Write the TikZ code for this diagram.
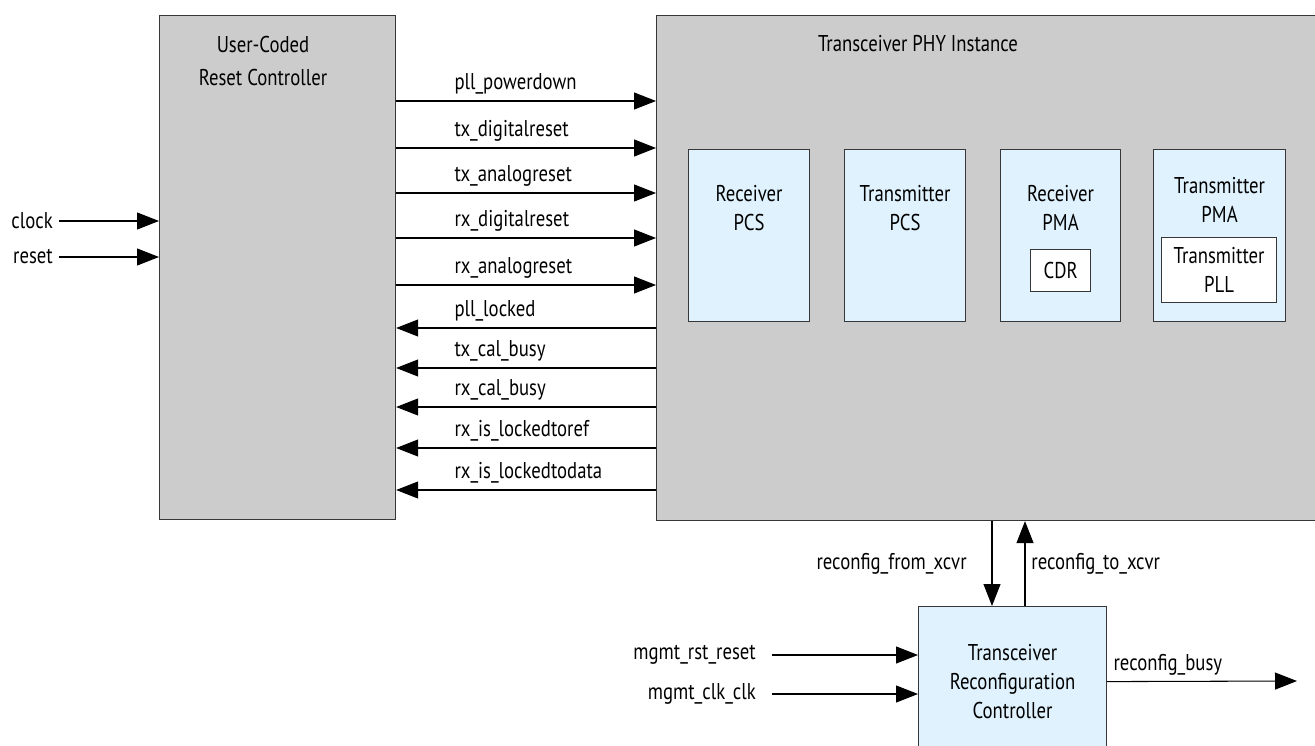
\documentclass[tikz,border=0pt]{standalone}
\usepackage{fontspec}
\setmainfont{PT Sans}[FakeStretch=0.82]
\definecolor{blockgray}{RGB}{204, 204, 204}
\definecolor{subblue}{RGB}{223, 242, 253}
\definecolor{edgegray}{RGB}{55, 55, 55}
\usepackage{tikz}
\usetikzlibrary{arrows.meta, positioning}

\begin{document}
\begin{tikzpicture}[
  x=0.02cm, y=-0.02cm,
  font=\fontsize{13}{16.5}\selectfont,
  outer/.style={rectangle, draw=edgegray, fill=blockgray, anchor=north west, line width=0.7pt},
  sub/.style={rectangle, draw=edgegray, fill=subblue, anchor=north west, align=center, line width=0.7pt},
  inner/.style={rectangle, draw=edgegray, fill=white, anchor=north west, align=center, line width=0.7pt},
  txt/.style={align=center},
  lbl/.style={pos=0.2, anchor=south west},
  arr/.style={-{Triangle[length=0.44cm, width=0.34cm]}, line width=0.6pt},
  rarr/.style={{Triangle[length=0.44cm, width=0.34cm]}-, line width=0.6pt}
]
  \useasboundingbox (0,0) rectangle (1315,746);
  \clip (0,0) rectangle (1315,746);

  % main blocks
  \node[outer, minimum width=4.72cm, minimum height=10.08cm] (rst) at (159,15) {};
  \node[txt] (rsttxt) at (263,61) {User-Coded\\[0.08cm]Reset Controller};
  \node[outer, minimum width=13.2cm, minimum height=10.1cm] (phy) at (656,15) {};
  \node[txt] (phytxt) at (918,44) {Transceiver PHY Instance};

  % blocks inside the PHY
  \node[sub, minimum width=2.42cm, minimum height=3.44cm] (rxpcs) at (688,149) {};
  \node[sub, minimum width=2.42cm, minimum height=3.44cm] (txpcs) at (844,149) {};
  \node[sub, minimum width=2.4cm, minimum height=3.44cm] (rxpma) at (1000,149) {};
  \node[sub, minimum width=2.64cm, minimum height=3.44cm] (txpma) at (1153,149) {};
  \node[txt, below=0.6cm of rxpcs.north] (rxpcstxt) {Receiver\\PCS};
  \node[txt, below=0.6cm of txpcs.north] (txpcstxt) {Transmitter\\PCS};
  \node[txt, below=0.6cm of rxpma.north] (rxpmatxt) {Receiver\\PMA};
  \node[txt, below=0.44cm of txpma.north] (txpmatxt) {Transmitter\\PMA};
  \node[inner, minimum width=1.2cm, minimum height=0.84cm] (cdr) at (1030,249) {CDR};
  \node[inner, minimum width=2.3cm, minimum height=1.3cm] (txpll) at (1161,237) {Transmitter\\PLL};

  % reconfiguration controller
  \node[sub, minimum width=3.76cm, minimum height=3cm] (rcfg) at (918,606)
    {Transceiver\\Reconfiguration\\Controller};

  % reset controller inputs
  \node[anchor=east] (clk) at (59,221) {clock};
  \node[anchor=east] (rstin) at (59,257) {reset};
  \draw[arr] (clk) -- (rst.west |- clk);
  \draw[arr] (rstin) -- (rst.west |- rstin);

  % reset signals to the PHY
  \draw[arr] (rst.east |- 0,101) -- node[lbl] {pll\_powerdown} (phy.west |- 0,101);
  \draw[arr] (rst.east |- 0,148) -- node[lbl] {tx\_digitalreset} (phy.west |- 0,148);
  \draw[arr] (rst.east |- 0,193) -- node[lbl] {tx\_analogreset} (phy.west |- 0,193);
  \draw[arr] (rst.east |- 0,238) -- node[lbl] {rx\_digitalreset} (phy.west |- 0,238);
  \draw[arr] (rst.east |- 0,285) -- node[lbl] {rx\_analogreset} (phy.west |- 0,285);

  % status signals back from the PHY
  \draw[rarr] (rst.east |- 0,328) -- node[lbl] {pll\_locked} (phy.west |- 0,328);
  \draw[rarr] (rst.east |- 0,368) -- node[lbl] {tx\_cal\_busy} (phy.west |- 0,368);
  \draw[rarr] (rst.east |- 0,407) -- node[lbl] {rx\_cal\_busy} (phy.west |- 0,407);
  \draw[rarr] (rst.east |- 0,448) -- node[lbl] {rx\_is\_lockedtoref} (phy.west |- 0,448);
  \draw[rarr] (rst.east |- 0,490) -- node[lbl] {rx\_is\_lockedtodata} (phy.west |- 0,490);

  % reconfiguration interface
  \draw[arr] (phy.south -| 992,0) -- node[midway, left=0.38cm] {reconfig\_from\_xcvr} (rcfg.north -| 992,0);
  \draw[arr] (rcfg.north -| 1025,0) -- node[midway, right] {reconfig\_to\_xcvr} (phy.south -| 1025,0);

  \node[anchor=east] (mrst) at (762,655) {mgmt\_rst\_reset};
  \node[anchor=east] (mclk) at (762,694) {mgmt\_clk\_clk};
  \draw[arr, shorten <=0.2cm] (mrst) -- (rcfg.west |- mrst);
  \draw[arr, shorten <=0.2cm] (mclk) -- (rcfg.west |- mclk);

  \coordinate (busyend) at (1297,681);
  \draw[arr] (rcfg.east) -- node[pos=0, above right] {reconfig\_busy} (busyend);
\end{tikzpicture}
\end{document}
